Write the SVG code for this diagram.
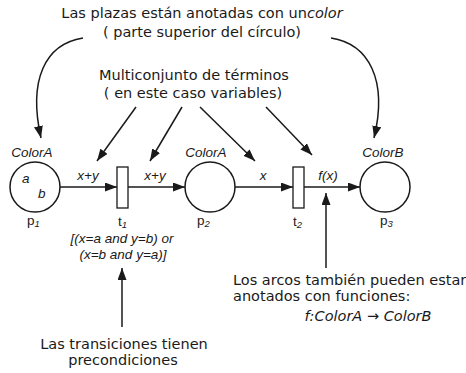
<svg xmlns="http://www.w3.org/2000/svg" width="466" height="373" viewBox="0 0 466 373">
<style>
.ann{font-family:"DejaVu Sans",sans-serif;font-size:14.5px;fill:#1a1a1a}
.lab{font-family:"Liberation Sans",Arial,sans-serif;font-size:13.5px;fill:#1a1a1a}
.it{font-style:italic}
.sub{font-family:"Liberation Sans",Arial,sans-serif;font-size:9.5px;font-style:italic;fill:#1a1a1a}
.edge{fill:none;stroke:#1a1a1a;stroke-width:1.5;marker-end:url(#ah)}
.place{fill:#fff;stroke:#1a1a1a;stroke-width:1.5}
.trans{fill:#fff;stroke:#1a1a1a;stroke-width:1.3}
</style>
<defs>
<marker id="ah" markerUnits="userSpaceOnUse" markerWidth="13" markerHeight="10" refX="12" refY="4.5" orient="auto">
<path d="M0,0 L12,4.5 L0,9 z" fill="#1a1a1a"/>
</marker>
</defs>
<rect width="466" height="373" fill="#fff"/>
<g id="connectors">
<path class="edge" d="M83,38 C45,44 28,80 41,138"/>
<path class="edge" d="M331,38 C369,44 388,80 374,138"/>
<path class="edge" d="M136,107 L97,161"/>
<path class="edge" d="M182,107 L150,161"/>
<path class="edge" d="M200,107 L255,161"/>
<path class="edge" d="M266,107 L312,155"/>
<path class="edge" d="M60,187 L117,187"/>
<path class="edge" d="M128,187 L185,187"/>
<path class="edge" d="M235,187 L293,187"/>
<path class="edge" d="M304,187 L360,187"/>
<path class="edge" d="M326,268 L326,193"/>
<path class="edge" d="M122,327 L122,268"/>
</g>
<g id="note-plazas">
<text class="ann" x="202" y="18" text-anchor="middle">Las plazas están anotadas con un<tspan class="it">color</tspan></text>
<text class="ann" x="202" y="37" text-anchor="middle">( parte superior del círculo)</text>
</g>
<g id="note-multiconjunto">
<text class="ann" x="194" y="80" text-anchor="middle">Multiconjunto de términos</text>
<text class="ann" x="193" y="98" text-anchor="middle">( en este caso variables)</text>
</g>
<g id="p1">
<circle class="place" cx="35" cy="187" r="25"/>
<text class="lab it" x="32" y="157" text-anchor="middle">ColorA</text>
<text class="lab it" x="22" y="183">a</text>
<text class="lab it" x="38" y="198">b</text>
<text class="lab" x="27" y="225">p<tspan class="sub" dy="2">1</tspan></text>
</g>
<g id="t1">
<rect class="trans" x="117" y="167" width="11" height="41"/>
<text class="lab" x="118" y="226">t<tspan class="sub" dy="2">1</tspan></text>
<text class="lab it" x="122" y="243" text-anchor="middle">[(x=a and y=b) or</text>
<text class="lab it" x="123" y="259" text-anchor="middle">(x=b and y=a)]</text>
</g>
<g id="p2">
<circle class="place" cx="210" cy="187" r="25"/>
<text class="lab it" x="206" y="157" text-anchor="middle">ColorA</text>
<text class="lab" x="197" y="225">p<tspan class="sub" dy="2" font-size="10.5">2</tspan></text>
</g>
<g id="t2">
<rect class="trans" x="293" y="167" width="11" height="41"/>
<text class="lab" x="293" y="226">t<tspan class="sub" dy="2" font-size="10.5">2</tspan></text>
</g>
<g id="p3">
<circle class="place" cx="385" cy="187" r="25"/>
<text class="lab it" x="383" y="157" text-anchor="middle">ColorB</text>
<text class="lab" x="380" y="225">p<tspan class="sub" dy="2" font-size="10.5">3</tspan></text>
</g>
<g id="arc-labels">
<text class="lab it" x="88" y="180" text-anchor="middle">x+y</text>
<text class="lab it" x="155" y="180" text-anchor="middle">x+y</text>
<text class="lab it" x="263" y="180" text-anchor="middle">x</text>
<text class="lab it" x="328" y="180" text-anchor="middle">f(x)</text>
</g>
<g id="note-arcos">
<text class="ann" x="233" y="285">Los arcos también pueden estar</text>
<text class="ann" x="233" y="301">anotados con funciones:</text>
<text class="ann it" x="368" y="321" text-anchor="middle">f:ColorA → ColorB</text>
</g>
<g id="note-transiciones">
<text class="ann" x="124" y="349" text-anchor="middle">Las transiciones tienen</text>
<text class="ann" x="123" y="365" text-anchor="middle">precondiciones</text>
</g>
</svg>
